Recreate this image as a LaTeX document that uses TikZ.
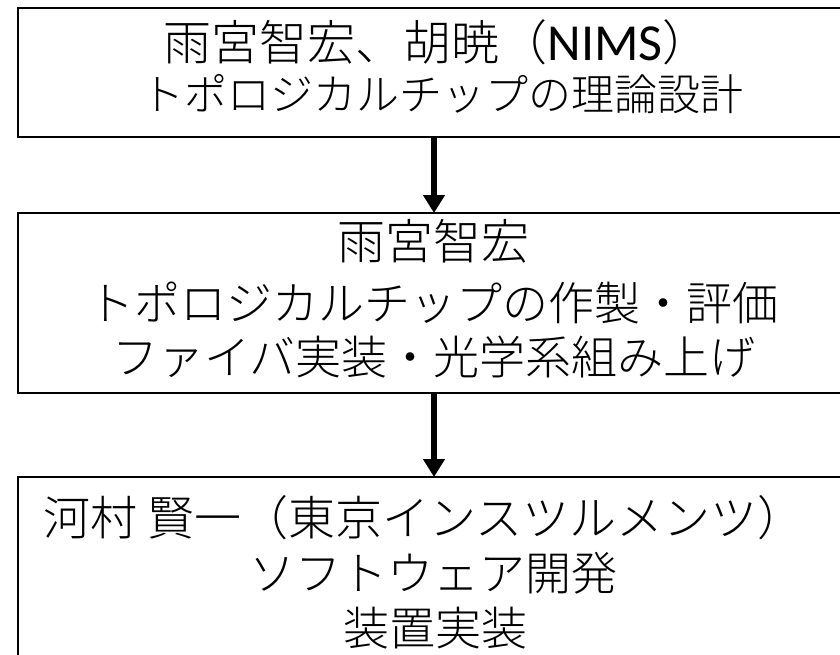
\documentclass[tikz,border=0pt]{standalone}
\usepackage{fontspec}
\setmainfont{Noto Sans CJK JP}[UprightFont=* Light]
\newfontfamily\latinf{Carlito}
\usetikzlibrary{arrows.meta}
\begin{document}
\begin{tikzpicture}[x=1pt,y=-1pt,
  box/.style={draw=black, line width=2.5pt, inner sep=0pt, outer sep=0pt, minimum width=834pt},
  txt/.style={anchor=base, inner sep=0pt, text=black},
  flow/.style={line width=6pt, -{Triangle[width=21pt,length=18pt]}}]
\useasboundingbox (0,0) rectangle (840,654);
\clip (0,0) rectangle (840,654);
\fill[white] (0,0) rectangle (840,654);
\node[box, minimum height=129pt] (b1) at (435,72.5) {};
\node[box, minimum height=180pt] (b2) at (435,303) {};
\node[box, minimum height=243pt] (b3) at (435,598.5) {};
\node[txt, font=\fontsize{48}{58}\selectfont] (t11) at (437,60) {雨宮智宏、胡暁（{\latinf\fontsize{52}{60}\selectfont NIMS}）};
\node[txt, font=\fontsize{43}{52}\selectfont] (t12) at (442,110) {トポロジカルチップの理論設計};
\node[txt, font=\fontsize{48}{58}\selectfont] (t21) at (433,259) {雨宮智宏};
\node[txt, font=\fontsize{46}{56}\selectfont] (t22) at (433,320) {トポロジカルチップの作製・評価};
\node[txt, font=\fontsize{46}{56}\selectfont] (t23) at (434,374) {ファイバ実装・光学系組み上げ};
\node[txt, font=\fontsize{47}{58}\selectfont] (t31) at (424,535) {河村 賢一（東京インスツルメンツ）};
\node[txt, font=\fontsize{46}{56}\selectfont] (t32) at (433,590) {ソフトウェア開発};
\node[txt, font=\fontsize{46}{56}\selectfont] (t33) at (435,645) {装置実装};
\draw[flow] (b1.south -| 434,0) -- (b2.north -| 434,0);
\draw[flow] (b2.south -| 434,0) -- (b3.north -| 434,0);
\end{tikzpicture}
\end{document}
